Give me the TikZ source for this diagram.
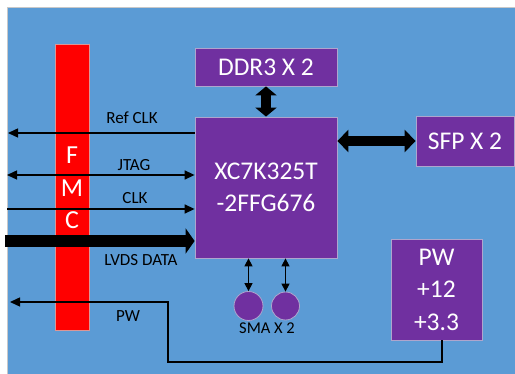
\documentclass[tikz,border=0pt]{standalone}
\usepackage{fontspec}
\setmainfont{Carlito}
\usetikzlibrary{arrows.meta,calc}
\definecolor{bgblue}{RGB}{91,155,213}
\definecolor{boxpurple}{RGB}{112,48,160}
\definecolor{boxedge}{RGB}{175,165,205}
\definecolor{fmcred}{RGB}{255,0,0}
\tikzset{sigtip/.tip={Triangle[length=10pt,width=9pt]},
  smatip/.tip={Triangle[length=8pt,width=8pt]},
  ddrtip/.tip={Triangle[length=9pt,width=21pt]},
  sfptip/.tip={Triangle[length=11pt,width=22pt]},
  lvdstip/.tip={Triangle[length=9pt,width=25pt]}}
\begin{document}
\begin{tikzpicture}[x=1pt,y=-1pt,
  pbox/.style={draw=boxedge,line width=0.8pt,fill=boxpurple,text=white,inner sep=0pt,font=\fontsize{25.5}{32.5}\selectfont,align=center},
  lbl/.style={font=\fontsize{17}{19}\selectfont,text=black,inner sep=0pt},
  fmcl/.style={text=white,font=\fontsize{26}{30}\selectfont,inner sep=0pt},
  sigline/.style={line width=1.4pt,draw=black},
  fat/.style={line width=10pt,draw=black}]
\useasboundingbox (0,0) rectangle (515,374);
\fill[white] (0,0) rectangle (515,374);
\node[draw={rgb,255:red,200;green,200;blue,200},line width=0.8pt,fill=bgblue,minimum width=508pt,minimum height=367pt,inner sep=0pt,anchor=north west] (bg) at (7,7) {};
% FMC bar
\node[draw={rgb,255:red,220;green,150;blue,150},line width=0.5pt,fill=fmcred,minimum width=34pt,minimum height=286pt,inner sep=0pt] (fmc) at (72,187) {};
\node[fmcl] (fF) at (72,155) {F};
\node[fmcl] (fM) at (72,188) {M};
\node[fmcl] (fC) at (72,220) {C};
% boxes
\node[pbox,minimum width=142pt,minimum height=38pt] (ddr) at (266,67) {DDR3 X 2};
\node[pbox,minimum width=142pt,minimum height=141pt] (fpga) at (266,187.5) {XC7K325T\\-2FFG676};
\node[pbox,minimum width=98pt,minimum height=50pt] (sfp) at (465,141) {SFP X 2};
\node[pbox,minimum width=91pt,minimum height=101pt] (pw) at (436.5,289.5) {PW\\+12\\+3.3};
\node[draw=boxedge,line width=0.8pt,fill=boxpurple,circle,minimum size=29pt,inner sep=0pt] (sma1) at (248.5,306) {};
\node[draw=boxedge,line width=0.8pt,fill=boxpurple,circle,minimum size=28pt,inner sep=0pt] (sma2) at (285.5,306) {};
\node[lbl,font=\fontsize{16.5}{18}\selectfont] (smalbl) at (267,328) {SMA X 2};
% thick arrows
\draw[fat,{ddrtip}-{ddrtip}] (ddr.south) -- (fpga.north);
\draw[fat,{sfptip}-{sfptip}] (fpga.east |- sfp.west) -- (sfp.west);
% SMA arrows
\draw[sigline,{smatip}-{smatip}] (fpga.south -| sma1) -- (sma1.north);
\draw[sigline,{smatip}-{smatip}] (fpga.south -| sma2) -- (sma2.north);
% left side signals
\coordinate (refEnd) at (8,133);
\coordinate (jtagEnd) at (7,175);
\coordinate (clkEnd) at (7,209);
\coordinate (lvdsEnd) at (5,241);
\draw[sigline,-{sigtip}] (fpga.west |- refEnd) -- (refEnd);
\draw[sigline,{sigtip}-{sigtip}] (jtagEnd) -- (fpga.west |- jtagEnd);
\draw[sigline,-{sigtip}] (clkEnd) -- (fpga.west |- clkEnd);
\draw[line width=12pt,draw=black,-{lvdstip}] (lvdsEnd) -- (fpga.west |- lvdsEnd);
\node[lbl] (lref) at (132,118) {Ref CLK};
\node[lbl] (ljtag) at (134,165) {JTAG};
\node[lbl] (lclk) at (135,198) {CLK};
\node[lbl] (llvds) at (141,260) {LVDS DATA};
% PW line
\coordinate (pwA) at (442,362);
\coordinate (pwB) at (168,362);
\coordinate (pwC) at (168,302);
\coordinate (pwEnd) at (10,302);
\draw[sigline,-{sigtip}] (pw.south -| pwA) -- (pwA) -- (pwB) -- (pwC) -- (pwEnd);
\node[lbl] (lpw) at (128,316) {PW};
\end{tikzpicture}
\end{document}
